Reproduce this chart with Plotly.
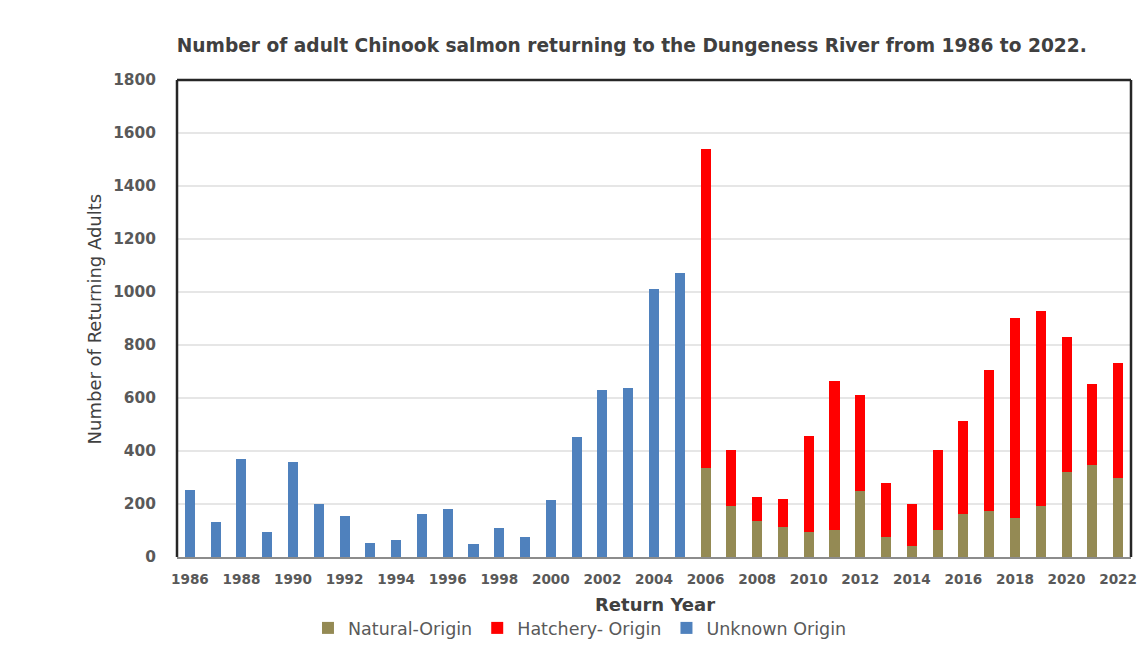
import plotly.graph_objects as go

# Unknown origin counts (1986-2005)
unknown_years = list(range(1986, 2006))
unknown = [253, 133, 370, 95, 360, 199, 153, 54, 64, 162,
           182, 50, 109, 74, 216, 452, 630, 638, 1010, 1073]

# Natural / hatchery split (2006-2022)
split_years = list(range(2006, 2023))
natural = [337, 192, 137, 112, 93, 103, 250, 77, 43, 101,
           163, 175, 147, 191, 322, 348, 299]
totals = [1538, 403, 228, 219, 457, 663, 611, 278, 201, 404,
          512, 705, 901, 927, 830, 654, 733]
hatchery = [t - n for t, n in zip(totals, natural)]

FONT = "DejaVu Sans, sans-serif"
TXT = "#595959"
DARK = "#404040"

fig = go.Figure()
fig.add_trace(go.Bar(x=split_years, y=natural, name="Natural-Origin",
                     marker=dict(color="#948a54", line=dict(width=0))))
fig.add_trace(go.Bar(x=split_years, y=hatchery, name="Hatchery- Origin",
                     marker=dict(color="#ff0000", line=dict(width=0))))
fig.add_trace(go.Bar(x=unknown_years, y=unknown, name="Unknown Origin",
                     marker=dict(color="#4f81bd", line=dict(width=0))))

fig.update_layout(
    barmode="stack",
    bargap=0.61,
    width=1130, height=633,
    plot_bgcolor="white",
    paper_bgcolor="white",
    font=dict(family=FONT, color=TXT, size=14),
    margin=dict(l=169, r=7, t=72, b=84, autoexpand=False),
    title=dict(text="Number of adult Chinook salmon returning to the Dungeness River from 1986 to 2022.",
               x=0.552, xanchor="center", y=0.9415, yanchor="middle",
               font=dict(family=FONT, size=18.6, color=DARK, weight="bold")),
    xaxis=dict(range=[1985.5, 2022.5], tick0=1986, dtick=2, showgrid=False,
               ticks="", showline=True, linecolor="#8c8c8c", linewidth=2,
               ticklabelstandoff=9, automargin=False,
               tickfont=dict(size=13.6, weight="bold", color=TXT)),
    yaxis=dict(range=[0, 1800], dtick=200, showgrid=True, gridcolor="#e6e6e6",
               gridwidth=1.5, zeroline=False, ticks="", showline=False,
               automargin=False,
               tickfont=dict(size=15.4, weight="bold", color=TXT),
               ticklabelstandoff=20),
    legend=dict(orientation="h", x=0.4224, xanchor="center",
                yref="container", y=0.0205, yanchor="middle", traceorder="normal",
                font=dict(size=17.5, color=TXT), itemwidth=30),
    showlegend=True,
)

# axis titles
fig.add_annotation(text="Return Year", xref="paper", yref="paper",
                   x=0.501, y=-0.1006, xanchor="center", yanchor="middle",
                   showarrow=False, font=dict(size=18, weight="bold", color=DARK))
fig.add_annotation(text="Number of Returning Adults", xref="paper", yref="paper",
                   x=-0.086, y=0.5, xanchor="center", yanchor="middle",
                   textangle=-90, showarrow=False, font=dict(size=18, color=DARK))

# plot frame (left, top, right)
for x0, y0, x1, y1 in [(0, 0, 0, 1), (0, 1, 1, 1), (1, 1, 1, 0)]:
    fig.add_shape(type="line", xref="paper", yref="paper", x0=x0, y0=y0, x1=x1, y1=y1,
                  line=dict(color="#262626", width=2.5), layer="above")

fig.write_html("out.html")
